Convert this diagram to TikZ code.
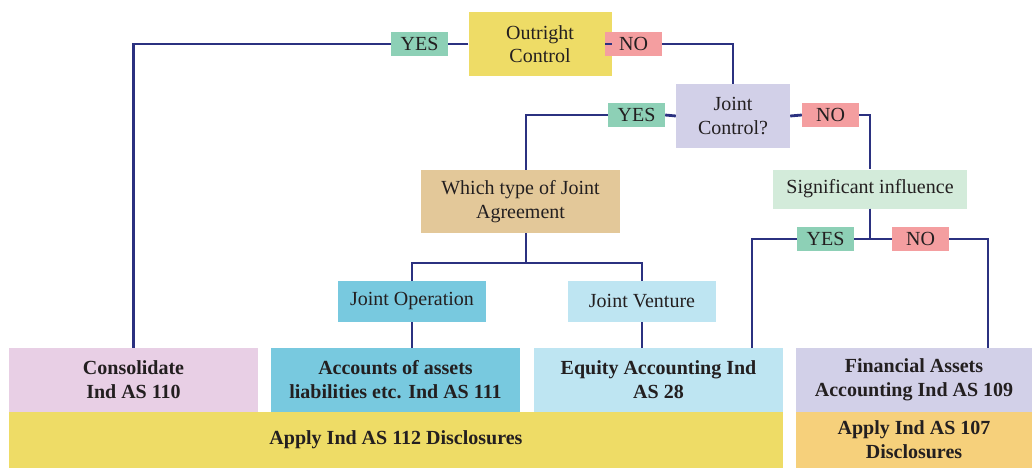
\documentclass[tikz,border=0pt]{standalone}
\usepackage{fontspec}
\setmainfont{Liberation Serif}
\usepackage{tikz}
\usetikzlibrary{arrows.meta, positioning, shapes}

\definecolor{inkc}{HTML}{231F20}
\definecolor{linec}{HTML}{2B3180}
\definecolor{yellowc}{HTML}{EEDC66}
\definecolor{yesc}{HTML}{8DD0B6}
\definecolor{noc}{HTML}{F49EA0}
\definecolor{lavc}{HTML}{D2D0E8}
\definecolor{mintc}{HTML}{D3EBDA}
\definecolor{tanc}{HTML}{E3C899}
\definecolor{tealc}{HTML}{78C9DF}
\definecolor{skyc}{HTML}{BEE5F2}
\definecolor{pinkc}{HTML}{E8CFE5}
\definecolor{orangec}{HTML}{F6D07B}

\begin{document}
\begin{tikzpicture}[x=1pt, y=-1pt,
			box/.style={rectangle, align=center, inner sep=0pt, text=inkc,
				font=\fontsize{20}{23.5}\selectfont},
			res/.style={box, font=\fontsize{20}{24}\selectfont\bfseries},
			tag/.style={box, minimum width=57pt, minimum height=24pt},
			link/.style={draw=linec, line width=2.8pt}]
			
			\useasboundingbox (0,0) rectangle (1032,468);
			
			% question nodes
			\node[box, fill=yellowc, minimum width=143pt, minimum height=64pt] (outright) at (540,44) {Outright\\Control};
			\node[box, fill=lavc, minimum width=114pt, minimum height=64pt] (joint) at (733,116) {Joint\\Control?};
			\node[box, fill=mintc, minimum width=194pt, minimum height=39pt] (signif) at (870,189) {Significant influence};
			\node[box, fill=tanc, minimum width=199pt, minimum height=63pt] (which) at (520.5,201.5) {Which type of Joint\\Agreement};
			\node[box, fill=tealc, minimum width=148pt, minimum height=41pt] (jop) at (412,301.5) {Joint Operation};
			\node[box, fill=skyc, minimum width=148pt, minimum height=41pt] (jv) at (642,301.5) {Joint Venture};
			
			% yes / no tags
			\node[tag, fill=yesc] (yes1) at (419.5,44) {YES};
			\node[tag, fill=noc] (no1) at (633.5,44) {NO};
			\node[tag, fill=yesc] (yes2) at (636.5,115) {YES};
			\node[tag, fill=noc] (no2) at (830.5,115) {NO};
			\node[tag, fill=yesc] (yes3) at (825.5,239) {YES};
			\node[tag, fill=noc] (no3) at (920.5,239) {NO};
			
			% result nodes
			\node[res, fill=pinkc, minimum width=249pt, minimum height=64pt] (consol) at (133.5,380) {Consolidate\\Ind AS 110};
			\node[res, fill=tealc, minimum width=249pt, minimum height=64pt] (accounts) at (395.5,380) {Accounts of assets\\liabilities etc. Ind AS 111};
			\node[res, fill=skyc, minimum width=249pt, minimum height=64pt] (equity) at (658.5,380) {Equity Accounting Ind\\AS 28};
			\node[res, fill=lavc, minimum width=236pt, minimum height=64pt] (finan) at (914,380) {Financial Assets\\Accounting Ind AS 109};
			\node[res, fill=yellowc, minimum width=774pt, minimum height=56pt] (apply112) at (396,440) {Apply Ind AS 112 Disclosures};
			\node[res, fill=orangec, minimum width=236pt, minimum height=56pt] (apply107) at (914,440) {Apply Ind AS 107\\Disclosures};
			
			% connectors
			\draw[link] (outright.west) -- (yes1.east);
			\draw[link] (yes1.west) -| (consol.north);
			\draw[link] (outright.east) -- (no1.west);
			\draw[link] (no1.east) -| (joint.north);
			\draw[link] (joint.west) -- (yes2.east);
			\draw[link] (yes2.west) -| ([xshift=5.5pt]which.north);
			\draw[link] (joint.east) -- (no2.west);
			\draw[link] (no2.east) -| (signif.north);
			\draw[link] (signif.south) |- (yes3.east);
			\draw[link] (signif.south) |- (no3.west);
			\draw[link] (yes3.west) -| ([xshift=93.5pt]equity.north);
			\draw[link] (no3.east) -| ([xshift=74pt]finan.north);
			
			\coordinate (split) at (526,263);
			\draw[link] ([xshift=5.5pt]which.south) -- (split);
			\draw[link] (split) -| (jop.north);
			\draw[link] (split) -| (jv.north);
			\draw[link] (jop.south) -- (jop.south |- accounts.north);
			\draw[link] (jv.south) -- (jv.south |- equity.north);
			
		\end{tikzpicture}
\end{document}
